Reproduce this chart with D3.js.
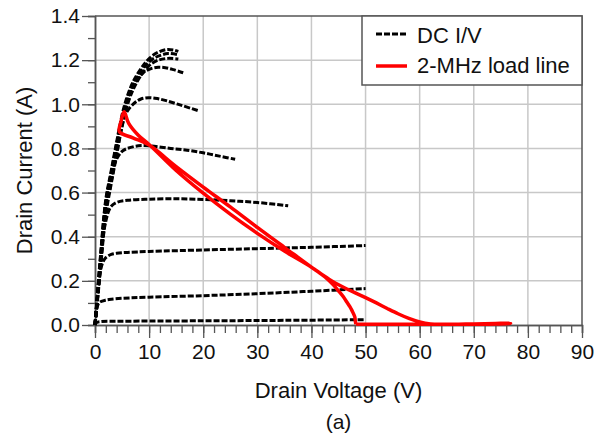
<!DOCTYPE html>
<html>
<head>
<meta charset="utf-8">
<script src="https://d3js.org/d3.v7.min.js"></script>
<style>
  body { margin: 0; background: #fff; }
  text { font-family: "Liberation Sans", Arial, sans-serif; fill: #111; }
</style>
</head>
<body>
<div id="my_dataviz"></div>
<script>

// DC I/V curves, [drain voltage (V), drain current (A)]
var iv1 = [[0,0],[0.3,0.011],[1,0.015],[5,0.017],[20,0.019],[35,0.021],[50,0.024]];
var iv2 = [[0,0],[0.3,0.07],[0.6,0.095],[1,0.105],[2,0.113],[3,0.117],[5,0.121],[10,0.126],[20,0.133],[30,0.142],[40,0.153],[50,0.165]];
var iv3 = [[0,0],[0.5,0.14],[1,0.245],[1.5,0.287],[2,0.305],[3,0.32],[4,0.325],[6,0.329],[10,0.333],[20,0.34],[30,0.346],[40,0.352],[50,0.36]];
var iv4 = [[0,0],[0.5,0.13],[1,0.27],[1.5,0.4],[2,0.47],[2.5,0.515],[3,0.538],[4,0.555],[6,0.565],[10,0.57],[15,0.572],[20,0.569],[25,0.563],[30,0.555],[35.7,0.54]];
var iv5 = [[0,0],[0.5,0.15],[1,0.29],[2,0.55],[3,0.68],[4,0.752],[5,0.787],[6,0.8],[8,0.812],[10,0.812],[14,0.8],[17,0.792],[20,0.78],[23,0.765],[25.9,0.751]];
var iv6 = [[0,0],[0.5,0.13],[1,0.26],[2,0.52],[3,0.65],[4,0.78],[5,0.9],[5.8,0.962],[7.4,1.008],[8.5,1.024],[9.9,1.03],[11.5,1.026],[13.2,1.016],[16,0.995],[19.1,0.971]];
var iv7 = [[0,0],[0.5,0.15],[1,0.3],[2,0.56],[3,0.69],[4,0.82],[5,0.935],[5.5,0.985],[6.5,1.055],[7.5,1.1],[9,1.145],[10.5,1.163],[11.7,1.168],[13,1.166],[14.5,1.157],[16.3,1.143]];
var iv8 = [[0,0],[0.5,0.12],[1,0.25],[2,0.5],[3,0.64],[4,0.77],[4.6,0.85],[5.5,0.955],[7.1,1.07],[9.2,1.155],[10.5,1.185],[11.7,1.2],[13.5,1.208],[15.4,1.205]];
var iv9 = [[0,0],[0.5,0.14],[1,0.28],[2,0.54],[3,0.67],[4,0.8],[4.6,0.88],[5.5,0.98],[7.1,1.09],[9.2,1.172],[10.5,1.202],[11.7,1.218],[13.5,1.23],[15.4,1.224]];
var iv10 = [[0,0],[0.5,0.16],[1,0.31],[2,0.57],[3,0.7],[4,0.83],[4.6,0.905],[5.5,1.0],[7.1,1.105],[9.2,1.185],[10.5,1.218],[11.7,1.236],[13.2,1.248],[14.5,1.246],[15.4,1.24]];
var dcCurves = [iv1, iv2, iv3, iv4, iv5, iv6, iv7, iv8, iv9, iv10];

// 2-MHz load line trajectory
var loadLine = [[48.2,0.004],[48.1,0.02],[48,0.038],[47.5,0.065],[47.1,0.083],[46.5,0.105],[45.9,0.128],[45,0.155],
  [44,0.183],[42.5,0.218],[41,0.245],[40,0.262],[35,0.352],[30,0.442],[25,0.535],[20,0.625],[15,0.718],[10,0.815],
  [7,0.848],[4.5,0.876],[4.8,0.92],[5.1,0.952],[5.4,0.966],[6.2,0.915],[8,0.86],[10,0.818],[15,0.7],[20,0.597],
  [25,0.502],[30,0.415],[35,0.335],[40,0.262],[42,0.228],[44,0.196],[46,0.17],[48,0.147],[50,0.124],[52,0.1],
  [54,0.075],[56,0.051],[58,0.03],[60,0.014],[62,0.005],[64,0.003],[70,0.005],[74,0.007],[76.8,0.008],
  [74,0.004],[70,0.003],[60,0.003],[50,0.003],[48.2,0.004]];

var xTicks = [0,10,20,30,40,50,60,70,80,90];
var yTicks = [0.0,0.2,0.4,0.6,0.8,1.0,1.2,1.4];

var margin = {top: 16, right: 18, bottom: 109, left: 95},
    width = 600 - margin.left - margin.right,
    height = 434 - margin.top - margin.bottom;

var svg = d3.select("#my_dataviz")
  .append("svg")
    .attr("width", 600)
    .attr("height", 434)
  .append("g")
    .attr("transform", "translate(" + margin.left + "," + margin.top + ")");

var x = d3.scaleLinear().domain([0, 90]).range([0, width]);
var y = d3.scaleLinear().domain([0, 1.4]).range([height, 0]);

// grid
svg.append("g").selectAll("line")
  .data(xTicks.slice(1, -1))
  .join("line")
    .attr("x1", d => x(d)).attr("x2", d => x(d))
    .attr("y1", 0).attr("y2", height)
    .attr("stroke", "#c8c8c8").attr("stroke-width", 1.5);
svg.append("g").selectAll("line")
  .data(yTicks.slice(1, -1))
  .join("line")
    .attr("y1", d => y(d)).attr("y2", d => y(d))
    .attr("x1", 0).attr("x2", width)
    .attr("stroke", "#c8c8c8").attr("stroke-width", 1.5);

// frame top / right
svg.append("path")
  .attr("d", "M0,0H" + width + "V" + height)
  .attr("fill", "none").attr("stroke", "#555").attr("stroke-width", 1.5);

// minor ticks
svg.append("g").attr("transform", "translate(0," + height + ")")
  .call(d3.axisBottom(x).tickValues(d3.range(0, 91, 2)).tickSize(8).tickFormat(""));
svg.append("g")
  .call(d3.axisLeft(y).tickValues(d3.range(0, 15).map(d => d / 10)).tickSize(7).tickFormat(""));

// major axes
var xAxis = svg.append("g").attr("transform", "translate(0," + height + ")")
  .call(d3.axisBottom(x).tickValues(xTicks).tickSize(13).tickPadding(6).tickSizeOuter(0));
var yAxis = svg.append("g")
  .call(d3.axisLeft(y).tickValues(yTicks).tickSize(13).tickPadding(2).tickSizeOuter(0).tickFormat(d3.format(".1f")));

svg.selectAll(".domain").attr("stroke", "#555").attr("stroke-width", 1.5);
svg.selectAll(".tick line").attr("stroke", "#555").attr("stroke-width", 1.3);
xAxis.selectAll("text").style("font-size", "21px").attr("fill", "#111");
yAxis.selectAll("text").style("font-size", "21px").attr("fill", "#111");

var line = d3.line()
  .x(d => x(d[0]))
  .y(d => y(d[1]))
  .curve(d3.curveCatmullRom.alpha(0.5));

// DC I/V curves
svg.append("g").selectAll("path")
  .data(dcCurves)
  .join("path")
    .attr("d", line)
    .attr("fill", "none")
    .attr("stroke", "#000")
    .attr("stroke-width", 3)
    .attr("stroke-dasharray", "6,2");

// load line
svg.append("path")
  .attr("d", line(loadLine))
  .attr("fill", "none")
  .attr("stroke", "#ff0000")
  .attr("stroke-width", 3.5)
  .attr("stroke-linejoin", "round");

// axis titles
svg.append("text")
  .attr("x", width / 2).attr("y", 382)
  .attr("text-anchor", "middle")
  .style("font-size", "22px")
  .text("Drain Voltage (V)");
svg.append("text")
  .attr("transform", "translate(" + (-63) + "," + (height / 2) + ") rotate(-90)")
  .attr("text-anchor", "middle")
  .style("font-size", "22px")
  .text("Drain Current (A)");
svg.append("text")
  .attr("x", width / 2).attr("y", 413)
  .attr("text-anchor", "middle")
  .style("font-size", "21px")
  .text("(a)");

// legend
var legend = svg.append("g").attr("transform", "translate(" + (362 - margin.left) + ",0)");
legend.append("rect")
  .attr("x", 0).attr("y", 0).attr("width", 582 - 362).attr("height", 69)
  .attr("fill", "#fff").attr("stroke", "#555").attr("stroke-width", 1.5);
legend.append("line")
  .attr("x1", 14).attr("x2", 45).attr("y1", 18).attr("y2", 18)
  .attr("stroke", "#000").attr("stroke-width", 3).attr("stroke-dasharray", "6,2");
legend.append("text").attr("x", 55).attr("y", 27).style("font-size", "22px").text("DC I/V");
legend.append("line")
  .attr("x1", 14).attr("x2", 45).attr("y1", 50).attr("y2", 50)
  .attr("stroke", "#ff0000").attr("stroke-width", 3.5);
legend.append("text").attr("x", 55).attr("y", 57).style("font-size", "22px").text("2-MHz load line");

</script>
</body>
</html>
